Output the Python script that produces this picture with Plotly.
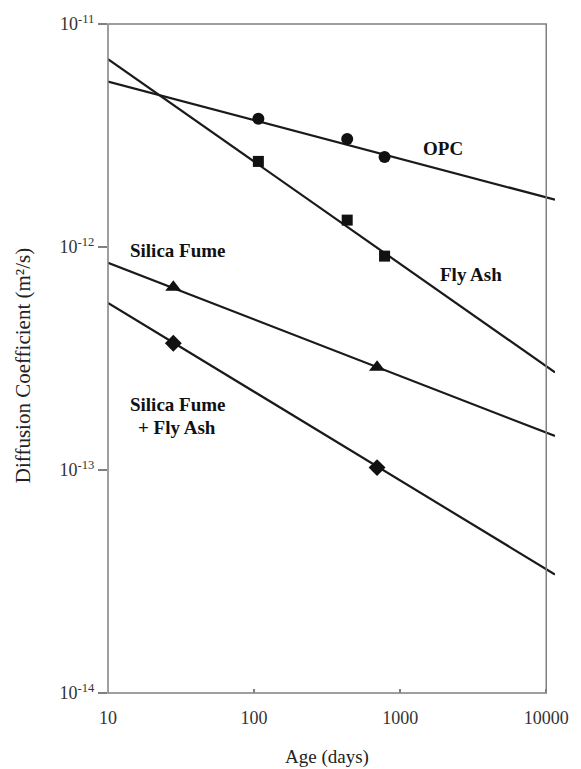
import numpy as np
import plotly.graph_objects as go

# ---- data ----
age_opc = [107, 434, 782]
d_opc = [3.76e-12, 3.05e-12, 2.53e-12]
age_fa = [107, 434, 782]
d_fa = [2.42e-12, 1.32e-12, 9.1e-13]
age_sf = [28, 695]
d_sf = [6.6e-13, 2.89e-13]
age_sffa = [28, 695]
d_sffa = [3.70e-13, 1.025e-13]

# fitted trend lines (end points)
fit_age = [10, 11482]
fit_opc = [5.52e-12, 1.63e-12]
fit_fa = [6.95e-12, 2.74e-13]
fit_sf = [8.49e-13, 1.42e-13]
fit_sffa = [5.61e-13, 3.40e-14]

y_tickvals = [1e-14, 1e-13, 1e-12, 1e-11]
y_ticktext = ["10<sup>-14</sup>", "10<sup>-13</sup>", "10<sup>-12</sup>", "10<sup>-11</sup>"]
x_tickvals = [10, 100, 1000, 10000]
x_ticktext = ["10", "100", "1000", "10000"]

FONT = "Liberation Serif"
LINE = "#1a1a1a"

fig = go.Figure()
for fy in [fit_opc, fit_fa, fit_sf, fit_sffa]:
    fig.add_trace(go.Scatter(x=fit_age, y=fy, mode="lines",
                             line=dict(color=LINE, width=2.2), showlegend=False,
                             hoverinfo="skip"))

for xs, ys, sym, sz in [(age_opc, d_opc, "circle", 12),
                        (age_fa, d_fa, "square", 11),
                        (age_sf, d_sf, "triangle-up", 14),
                        (age_sffa, d_sffa, "diamond", 13)]:
    fig.add_trace(go.Scatter(x=xs, y=ys, mode="markers",
                             marker=dict(symbol=sym, size=sz, color="#111111",
                                         line=dict(width=0)),
                             showlegend=False, cliponaxis=False))

xr = [1, 4.06]
frac = 3 / (xr[1] - xr[0])

fig.update_layout(
    width=581, height=769,
    margin=dict(l=108, r=14, t=16, b=76),
    paper_bgcolor="white", plot_bgcolor="white",
    font=dict(family=FONT, size=18, color="#222222"),
    xaxis=dict(type="log", range=xr, showgrid=False, zeroline=False,
               showline=False, tickvals=x_tickvals, ticktext=x_ticktext,
               ticks="inside", ticklen=4, tickwidth=1.5, tickcolor="#808080",
               ticklabelstandoff=12,
               tickfont=dict(family=FONT, size=18, color="#333333")),
    yaxis=dict(type="log", range=[-14, -11], showgrid=False, zeroline=False,
               showline=False, tickvals=y_tickvals, ticktext=y_ticktext,
               ticks="outside", ticklen=9, tickwidth=1.5, tickcolor="#808080",
               tickfont=dict(family=FONT, size=18, color="#333333")),
    shapes=[dict(type="rect", xref="paper", yref="paper", x0=0, x1=frac,
                 y0=0, y1=1, line=dict(color="#808080", width=1.5),
                 fillcolor="rgba(0,0,0,0)", layer="above")],
)

def lbl(text, px, py, size=19):
    fig.add_annotation(text=text, x=1 + (px - 108) / 150.0,
                       y=-11 - (py - 16) / 225.7, xref="x", yref="y",
                       showarrow=False, xanchor="center", yanchor="middle",
                       font=dict(family=FONT, size=size, color="#111111",
                                 weight="bold"))

lbl("OPC", 452, 142)
lbl("Fly Ash", 481, 270)
lbl("Silica Fume", 180, 245)
lbl("Silica Fume", 180, 401)
lbl("+ Fly Ash", 179, 424)

fig.add_annotation(text="Age (days)", xref="paper", yref="paper",
                   x=(333 - 108) / 459.0, y=-(758 - 693) / 677.0,
                   showarrow=False, xanchor="center", yanchor="middle",
                   font=dict(family=FONT, size=19, color="#222222"))
fig.add_annotation(text="Diffusion Coefficient (m²/s)", xref="paper", yref="paper",
                   x=(21 - 108) / 459.0, y=(693 - 362) / 677.0, textangle=-90,
                   showarrow=False, xanchor="center", yanchor="middle",
                   font=dict(family=FONT, size=21, color="#222222"))

fig.write_html("out.html")
